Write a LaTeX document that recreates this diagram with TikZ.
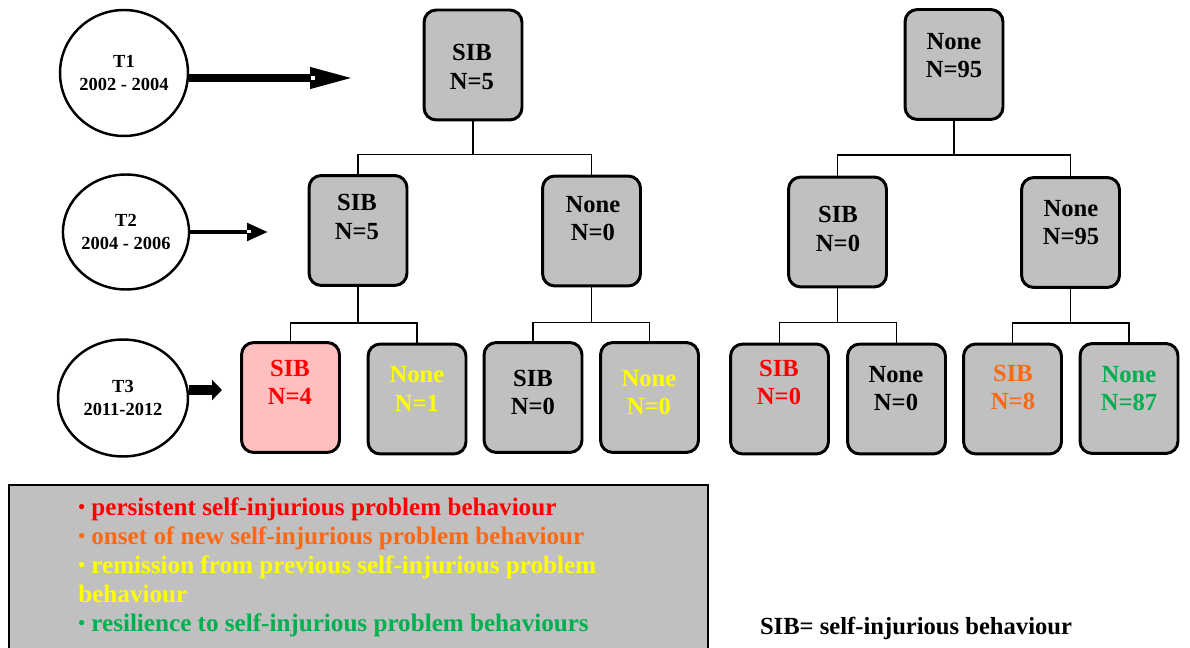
\documentclass[tikz,border=0pt]{standalone}
\usepackage{fontspec}
\setmainfont{Liberation Serif}
\usetikzlibrary{shapes.geometric,arrows.meta}

\definecolor{boxgray}{RGB}{192,192,192}
\definecolor{persistpink}{RGB}{255,191,191}
\definecolor{persistred}{RGB}{255,0,0}
\definecolor{onsetorange}{RGB}{250,105,20}
\definecolor{remityellow}{RGB}{255,255,0}
\definecolor{resilgreen}{RGB}{0,176,80}

\newcommand{\legdot}{\raisebox{0.8pt}{\fontsize{11}{11}\selectfont •}}

\begin{document}
\begin{tikzpicture}[x=0.02cm,y=-0.02cm,
  wave/.style={ellipse,draw,line width=1.4pt,fill=white,inner sep=0pt,align=center,
    font=\bfseries\fontsize{10.5}{13}\selectfont},
  grp/.style={draw,line width=1.7pt,rounded corners=7pt,fill=boxgray,
    minimum width=1.96cm,minimum height=2.2cm,inner sep=0pt},
  grptext/.style={align=center,inner sep=0pt,font=\bfseries\fontsize{14}{16}\selectfont},
  link/.style={line width=1.1pt}]

\useasboundingbox (0,0) rectangle (1190,648);

%% time points
\node[wave,minimum width=2.56cm,minimum height=2.52cm] (t1) at (124,73) {T1\\2002 - 2004};
\node[wave,minimum width=2.46cm,minimum height=2.3cm] (t2) at (126,232) {T2\\2004 - 2006};
\node[wave,minimum width=2.6cm,minimum height=2.34cm] (t3) at (123,398) {T3\\2011-2012};

%% arrows
\coordinate (a1) at (353,78);
\coordinate (a2) at (268,232);
\coordinate (a3) at (222,390);
\draw[line width=4pt,-{Triangle[length=0.86cm,width=0.4cm]}] (t1.east |- a1) -- (a1);
\fill[white] ([shift={(-42,-2)}]a1) rectangle ++(4,4);
\draw[line width=2.8pt,-{Triangle[length=0.42cm,width=0.34cm]}] (t2.east |- a2) -- (a2);
\fill[white] ([shift={(-21,-1.5)}]a2) rectangle ++(4,3);
\draw[line width=5.7pt,-{Triangle[length=0.2cm,width=0.4cm]}] (t3.east |- a3) -- (a3);

%% left tree: SIB at T1
\node[grp] (sib1) at (473,65) {};
\node[grp] (sib2) at (358,230.5) {};
\node[grp] (none2) at (591.5,231) {};
\node[grp,fill=persistpink] (sibsib) at (290.5,397.5) {};
\node[grp] (sibnone) at (417,399) {};
\node[grp] (nonesib) at (533,397.5) {};
\node[grp] (nonenone) at (649.5,397.5) {};

\node[grptext] (sib1-t) at (472,67) {SIB\\N=5};
\node[grptext] (sib2-t) at (357,217) {SIB\\N=5};
\node[grptext] (none2-t) at (593,218.5) {None\\N=0};
\node[grptext,text=persistred] (sibsib-t) at (290,382.5) {SIB\\N=4};
\node[grptext,text=remityellow] (sibnone-t) at (417,389) {None\\N=1};
\node[grptext] (nonesib-t) at (533,392.5) {SIB\\N=0};
\node[grptext,text=remityellow] (nonenone-t) at (649,392.5) {None\\N=0};

%% right tree: None at T1
\node[grp] (rnone1) at (954,64.5) {};
\node[grp] (rsib2) at (837.5,232) {};
\node[grp] (rnone2) at (1070.5,232.5) {};
\node[grp] (rsibsib) at (779.5,399) {};
\node[grp] (rsibnone) at (896.5,399) {};
\node[grp] (rnonesib) at (1012.5,399) {};
\node[grp] (rnonenone) at (1129,398.5) {};

\node[grptext] (rnone1-t) at (954,56) {None\\N=95};
\node[grptext] (rsib2-t) at (838,229) {SIB\\N=0};
\node[grptext] (rnone2-t) at (1071,223) {None\\N=95};
\node[grptext,text=persistred] (rsibsib-t) at (779,382.5) {SIB\\N=0};
\node[grptext] (rsibnone-t) at (896,389) {None\\N=0};
\node[grptext,text=onsetorange] (rnonesib-t) at (1013,387.5) {SIB\\N=8};
\node[grptext,text=resilgreen] (rnonenone-t) at (1129,389) {None\\N=87};

%% links
\draw[link] (sib1.south) -- ++(0,33) -| (sib2.north) (sib1.south) ++(0,33) -| (none2.north);
\draw[link] (sib2.south) -- ++(0,36) -| (sibsib.north) (sib2.south) ++(0,36) -| (sibnone.north);
\draw[link] (none2.south) -- ++(0,35) -| (nonesib.north) (none2.south) ++(0,35) -| (nonenone.north);
\draw[link] (rnone1.south) -- ++(0,34) -| (rsib2.north) (rnone1.south) ++(0,34) -| (rnone2.north);
\draw[link] (rsib2.south) -- ++(0,34) -| (rsibsib.north) (rsib2.south) ++(0,34) -| (rsibnone.north);
\draw[link] (rnone2.south) -- ++(0,34) -| (rnonesib.north) (rnone2.south) ++(0,34) -| (rnonenone.north);

%% legend
\draw[line width=1.6pt,fill=boxgray] (9,485) rectangle (708,670);
\node[anchor=north west,align=left,inner sep=0pt,
  font=\bfseries\fontsize{14.3}{16.5}\selectfont] (legtext) at (78,497)
  {\textcolor{persistred}{\legdot\ persistent self-injurious problem behaviour}\\
   \textcolor{onsetorange}{\legdot\ onset of new self-injurious problem behaviour}\\
   \textcolor{remityellow}{\legdot\ remission from previous self-injurious problem}\\
   \textcolor{remityellow}{behaviour}\\
   \textcolor{resilgreen}{\legdot\ resilience to self-injurious problem behaviours}};

\node[font=\bfseries\fontsize{14}{16}\selectfont] (sibnote) at (916,628) {SIB= self-injurious behaviour};

\end{tikzpicture}
\end{document}
